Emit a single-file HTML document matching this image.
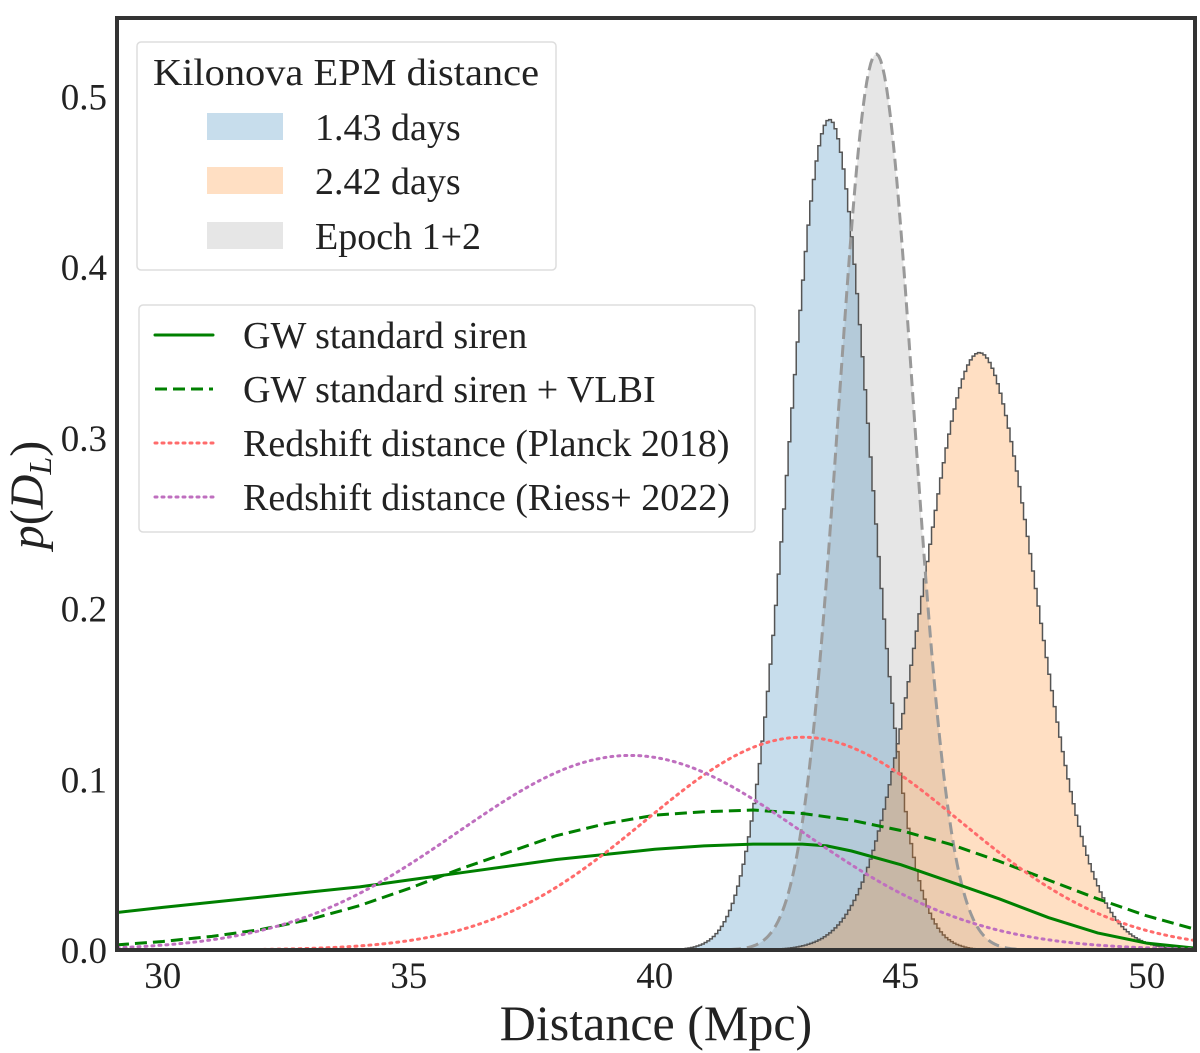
<!DOCTYPE html>
<html><head><meta charset="utf-8">
<style>
html,body{margin:0;padding:0;background:#fff;}
svg{display:block;font-family:"Liberation Serif",serif;}
</style></head>
<body>
<svg id="chart" width="1200" height="1053" viewBox="0 0 1200 1053" xmlns="http://www.w3.org/2000/svg"></svg>
<script>
// ---- data ----
const xTicks = [30, 35, 40, 45, 50];
const yTicks = [0.0, 0.1, 0.2, 0.3, 0.4, 0.5];
// histogram distributions: [mean, sigma]
const blueParams = [43.55, 0.82];
const orangeParams = [46.6, 1.14];
const grayParams = [44.5, 0.76];
// GW standard siren (solid) sampled from the figure
const gwX = [29.07, 30, 32, 34, 35, 36, 38, 40, 41, 42, 43, 43.5, 44, 45, 46, 47, 48, 49, 50, 51];
const gwY = [0.022, 0.025, 0.031, 0.037, 0.041, 0.045, 0.053, 0.059, 0.061, 0.062, 0.062, 0.061, 0.058, 0.050, 0.040, 0.030, 0.019, 0.010, 0.004, 0.001];
// GW + VLBI (dashed)
const vlbiX = [29.07, 30, 31, 32, 33, 34, 35, 36, 37, 38, 39, 40, 41, 42, 43, 44, 45, 46, 47, 48, 49, 50, 51];
const vlbiY = [0.003, 0.005, 0.008, 0.012, 0.018, 0.026, 0.036, 0.047, 0.057, 0.067, 0.074, 0.079, 0.081, 0.082, 0.080, 0.076, 0.070, 0.062, 0.052, 0.041, 0.030, 0.020, 0.012];
// Redshift distances (dotted): [mean, sigma]
const planckParams = [43.0, 3.2];
const riessParams = [39.5, 3.5];

// ---- axes ----
const L=117, R=1195, T=18, B=950;
const xMin=29.07, xMax=50.98, yMin=0, yMax=0.546;
const sx = v => L + (v-xMin)/(xMax-xMin)*(R-L);
const sy = v => B - (v-yMin)/(yMax-yMin)*(B-T);
const gauss = (x,p) => Math.exp(-0.5*((x-p[0])/p[1])**2)/(p[1]*Math.sqrt(2*Math.PI));

const svg = document.getElementById('chart');
const NS = 'http://www.w3.org/2000/svg';
function mk(tag, attrs, parent){
  const e = document.createElementNS(NS, tag);
  for (const k in attrs) e.setAttribute(k, attrs[k]);
  (parent||svg).appendChild(e);
  return e;
}
const clip = mk('clipPath',{id:'plotclip'});
mk('rect',{x:L,y:T,width:R-L,height:B-T},clip);
const plot = mk('g',{'clip-path':'url(#plotclip)'});



function stepPath(p){
  const bw = 0.055;
  let d = `M${sx(xMin)},${sy(0)}`;
  for (let x = xMin; x < xMax; x += bw){
    const y = gauss(x+bw/2,p);
    d += ` L${sx(x)},${sy(y)} L${sx(x+bw)},${sy(y)}`;
  }
  d += ` L${sx(xMax)},${sy(0)} Z`;
  return d;
}
function smoothPath(p){
  let d='';
  for (let x=xMin; x<=xMax+0.01; x+=0.04) d += (d?' L':'M')+sx(x)+','+sy(gauss(x,p));
  return d;
}
function linePath(xs,ys){
  return xs.map((x,i)=>(i?'L':'M')+sx(x)+','+sy(ys[i])).join(' ');
}

let g = mk('path',{d:smoothPath(grayParams)+` L${sx(xMax)},${sy(0)} L${sx(xMin)},${sy(0)} Z`,fill:'rgba(128,128,128,0.2)',stroke:'none'},plot);


let b = mk('path',{d:stepPath(blueParams),fill:'rgba(31,119,180,0.25)',stroke:'#555','stroke-width':1.5},plot);


let o = mk('path',{d:stepPath(orangeParams),fill:'rgba(255,127,14,0.25)',stroke:'#555','stroke-width':1.5},plot);


let gl = mk('path',{d:smoothPath(grayParams),fill:'none',stroke:'#999','stroke-width':3,'stroke-dasharray':'12,6'},plot);



let l1 = mk('path',{d:linePath(gwX,gwY),fill:'none',stroke:'#008000','stroke-width':3},plot);


let l2 = mk('path',{d:linePath(vlbiX,vlbiY),fill:'none',stroke:'#008000','stroke-width':3,'stroke-dasharray':'12,6'},plot);


let l3 = mk('path',{d:smoothPath(planckParams),fill:'none',stroke:'#ff6b6b','stroke-width':3,'stroke-dasharray':'2,5','stroke-linecap':'round'},plot);


let l4 = mk('path',{d:smoothPath(riessParams),fill:'none',stroke:'#bf6fbf','stroke-width':3,'stroke-dasharray':'2,5','stroke-linecap':'round'},plot);



let fr = mk('rect',{x:L,y:T,width:R-L,height:B-T,fill:'none',stroke:'#333','stroke-width':4});



xTicks.forEach(v=>{
  const t = mk('text',{x:sx(v),y:988,'font-size':37,'text-anchor':'middle',fill:'#222'});
  t.textContent = v;
  
  
});
yTicks.forEach(v=>{
  const t = mk('text',{x:107,y:sy(v)+13,'font-size':37,'text-anchor':'end',fill:'#222'});
  t.textContent = v.toFixed(1);
  
  
});
let xt = mk('text',{x:656,y:1040,'font-size':50,'text-anchor':'middle',fill:'#222'});
xt.textContent='Distance (Mpc)';


let yt = mk('text',{x:0,y:0,'font-size':48,'text-anchor':'middle',fill:'#222',transform:'translate(43,495) rotate(-90)'});
yt.innerHTML='<tspan font-style="italic">p</tspan>(<tspan font-style="italic">D</tspan><tspan font-style="italic" font-size="32" dy="8">L</tspan><tspan dy="-8">)</tspan>';



let lg1 = mk('g',{});


mk('rect',{x:137,y:42,width:419,height:228,rx:4,fill:'#fff',stroke:'#ddd','stroke-width':1.5},lg1);
let tt = mk('text',{x:153,y:85,'font-size':38,fill:'#222',textLength:386,lengthAdjust:'spacingAndGlyphs'},lg1); tt.textContent='Kilonova EPM distance';
[['rgba(31,119,180,0.25)','1.43 days',127],['rgba(255,127,14,0.25)','2.42 days',181],['rgba(128,128,128,0.2)','Epoch 1+2',236]].forEach(e=>{
  const r = mk('rect',{x:207,y:e[2]-14,width:76,height:27,fill:e[0]},lg1);
  
  
  const t = mk('text',{x:315,y:e[2]+13,'font-size':38,fill:'#222'},lg1);
  t.textContent=e[1];
  
  
});
let lg2 = mk('g',{});


mk('rect',{x:139,y:305,width:616,height:227,rx:4,fill:'#fff',stroke:'#ddd','stroke-width':1.5},lg2);
[['#008000','none','round','GW standard siren',335],['#008000','12,6','butt','GW standard siren + VLBI',389],['#ff6b6b','2,5','round','Redshift distance (Planck 2018)',443],['#bf6fbf','2,5','round','Redshift distance (Riess+ 2022)',497]].forEach(e=>{
  const ln = mk('line',{x1:155,x2:213,y1:e[4],y2:e[4],stroke:e[0],'stroke-width':3,'stroke-dasharray':e[1],'stroke-linecap':e[2]},lg2);
  
  
  const t = mk('text',{x:243,y:e[4]+13,'font-size':38,fill:'#222'},lg2);
  t.textContent=e[3];
  
  
});
</script>
</body></html>
